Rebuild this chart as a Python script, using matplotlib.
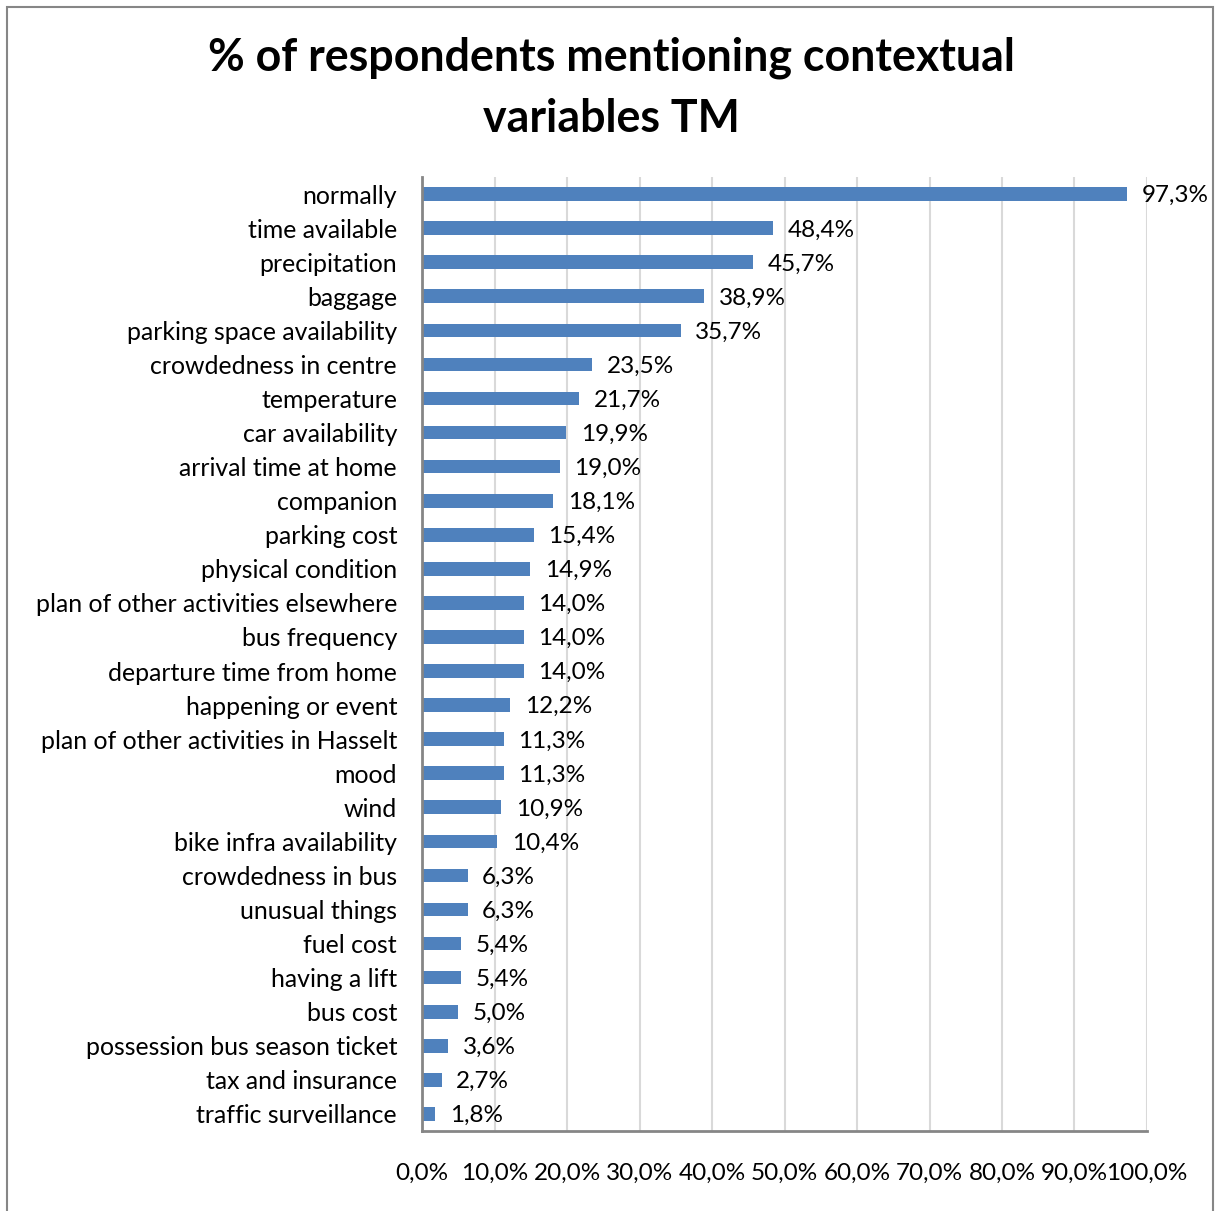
import matplotlib.pyplot as plt
from matplotlib.patches import Rectangle
from matplotlib.ticker import FuncFormatter

plt.rcParams['font.family'] = ['Lato', 'DejaVu Sans']

# Categories (top to bottom) and share of respondents in %
variables = [
    "normally", "time available", "precipitation", "baggage",
    "parking space availability", "crowdedness in centre", "temperature",
    "car availability", "arrival time at home", "companion", "parking cost",
    "physical condition", "plan of other activities elsewhere", "bus frequency",
    "departure time from home", "happening or event",
    "plan of other activities in Hasselt", "mood", "wind",
    "bike infra availability", "crowdedness in bus", "unusual things",
    "fuel cost", "having a lift", "bus cost", "possession bus season ticket",
    "tax and insurance", "traffic surveillance",
]
percent = [
    97.3, 48.4, 45.7, 38.9, 35.7, 23.5, 21.7, 19.9, 19.0, 18.1, 15.4, 14.9,
    14.0, 14.0, 14.0, 12.2, 11.3, 11.3, 10.9, 10.4, 6.3, 6.3, 5.4, 5.4, 5.0,
    3.6, 2.7, 1.8,
]
x_ticks = [0, 10, 20, 30, 40, 50, 60, 70, 80, 90, 100]


def fmt_pct(v, pos=None):
    return f"{v:.1f}%".replace(".", ",")


fig = plt.figure(figsize=(12.18, 12.11), dpi=100)
ax = fig.add_axes([0.3465, 0.0661, 0.5952, 0.7877])

ypos = list(range(len(variables)))
ax.barh(ypos, percent, height=0.4, color="#4F81BD", zorder=3)

for y, v in zip(ypos, percent):
    ax.text(v + 2.0, y + 0.05, fmt_pct(v), va="center", ha="left", fontsize=17.5, color="black")

ax.set_yticks(ypos)
ax.set_yticklabels(variables, fontsize=17.9)
ax.set_ylim(len(variables) - 0.5, -0.5)

ax.set_xlim(0, 100)
ax.set_xticks(x_ticks)
ax.xaxis.set_major_formatter(FuncFormatter(fmt_pct))
ax.tick_params(axis="x", length=0, pad=23, labelsize=17.5)
ax.tick_params(axis="y", length=0, pad=18)

ax.grid(axis="x", color="#D9D9D9", linewidth=1.5, zorder=0)
for side in ["top", "right"]:
    ax.spines[side].set_visible(False)
for side in ["left", "bottom"]:
    ax.spines[side].set_color("#868686")
    ax.spines[side].set_linewidth(2)
    ax.spines[side].set_zorder(4)

fig.text(0.5016, 0.952, "% of respondents mentioning contextual", ha="center", va="center",
         fontsize=32.2, fontweight="bold")
fig.text(0.5016, 0.902, "variables TM", ha="center", va="center",
         fontsize=32.2, fontweight="bold")

# outer chart border
fig.patches.append(Rectangle((7 / 1218, -0.01), 1206 / 1218, 1.01 - 7 / 1211,
                             transform=fig.transFigure, fill=False,
                             edgecolor="#868686", linewidth=1.5))

fig.savefig("out.png", dpi=100)
